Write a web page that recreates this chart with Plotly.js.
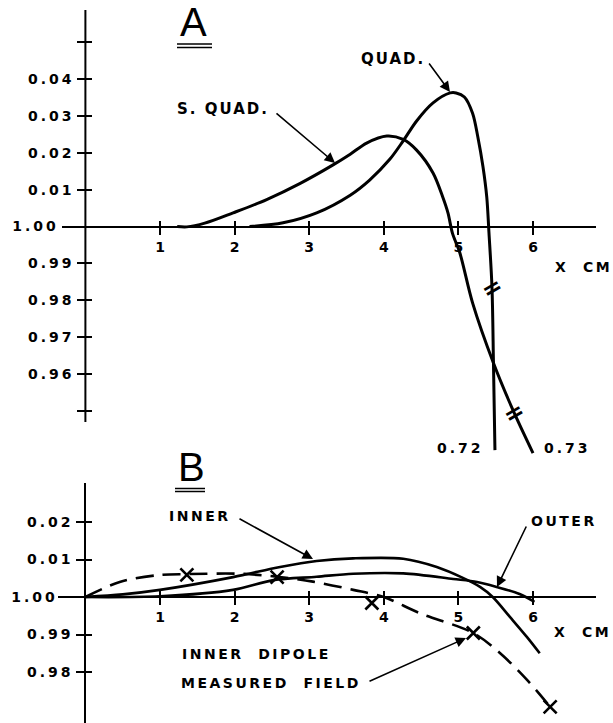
<!DOCTYPE html>
<html><head><meta charset="utf-8">
<script src="https://cdn.plot.ly/plotly-3.0.1.min.js"></script>
<style>html,body{margin:0;padding:0;background:#fff;}#chart{width:613px;height:723px;}</style>
</head><body><div id="chart"></div>
<script>
// ---------------- DATA ----------------
// Panel A : deviation of field from 1.00 vs X (cm)
const sQuadX = [1.23, 1.36, 1.6, 1.98, 2.43, 2.88, 3.32, 3.55, 3.77, 4.04, 4.26, 4.44, 4.66, 4.79, 4.86, 4.92, 5.02, 5.19, 5.47, 5.73, 6.0];
const sQuadY = [0, -0.0001, 0.0009, 0.0037, 0.0073, 0.0117, 0.0167, 0.0196, 0.0226, 0.0245, 0.0236, 0.0207, 0.0145, 0.008, 0.0037, -0.0018, -0.0072, -0.0207, -0.037, -0.0497, -0.0614];
const quadX = [2.2, 2.65, 3.1, 3.55, 3.81, 4.08, 4.26, 4.44, 4.66, 4.89, 4.97, 5.08, 5.19, 5.26, 5.33, 5.38, 5.41, 5.45, 5.47, 5.49];
const quadY = [0, 0.001, 0.0037, 0.0085, 0.0126, 0.0182, 0.0232, 0.0286, 0.0335, 0.0362, 0.0362, 0.0351, 0.0307, 0.0243, 0.0161, 0.008, -0.0018, -0.0164, -0.037, -0.0606];
// Panel B
const innerX = [0, 0.5, 1.0, 1.98, 2.61, 3.1, 3.59, 4.26, 4.71, 5.06, 5.29, 5.46, 5.69, 5.92, 6.09];
const innerY = [0, 0.0007, 0.0019, 0.0053, 0.008, 0.0096, 0.0103, 0.0102, 0.008, 0.0051, 0.0027, 0, -0.0053, -0.0107, -0.015];
const outerX = [0, 1.0, 1.98, 2.52, 3.1, 3.59, 4.26, 4.93, 5.25, 5.51, 5.82, 6.02];
const outerY = [0, 0.0002, 0.0019, 0.0045, 0.0054, 0.0062, 0.0063, 0.0048, 0.004, 0.0027, 0.0008, -0.0013];
const dipoleX = [0, 0.46, 0.96, 1.36, 2.07, 2.57, 3.05, 3.59, 4.0, 4.48, 5.2, 5.56, 5.92, 6.23];
const dipoleY = [0, 0.004, 0.0058, 0.0061, 0.0062, 0.0054, 0.0041, 0.0019, 0, -0.0043, -0.0096, -0.015, -0.0221, -0.0293];
const measX = [1.36, 2.57, 3.84, 5.2, 6.23];
const measY = [0.0059, 0.0053, -0.0016, -0.0096, -0.0293];
// Ticks
const xTickVals = [1, 2, 3, 4, 5, 6];
const xTickText = ['1', '2', '3', '4', '5', '6'];
const aYTickVals = [0.05, 0.04, 0.03, 0.02, 0.01, 0, -0.01, -0.02, -0.03, -0.04, -0.05];
const aYTickText = ['', '0.04', '0.03', '0.02', '0.01', '1.00', '0.99', '0.98', '0.97', '0.96', ''];
const bYTickVals = [0.02, 0.01, 0, -0.01, -0.02];
const bYTickText = ['0.02', '0.01', '1.00', '0.99', '0.98'];

// ---------------- GEOMETRY ----------------
const W = 613, H = 723;
const fx = px => px / W, fy = py => 1 - py / H;
const X0 = 85.4, PXCM = 74.6;          // x: 0 cm at 85.4px, 74.6 px per cm
const A_Y0 = 226.5, A_PXU = 3690;      // panel A: y=0 at 226.5px
const B_Y0 = 597, B_PXU = 3750;        // panel B
const xr = (l, r) => [(l - X0) / PXCM, (r - X0) / PXCM];
const yr = (y0, s, top, bot) => [(y0 - bot) / s, (y0 - top) / s];
const sp = (t, ls) => '<span style="letter-spacing:' + ls + 'px">' + t + '</span>';
const tickFont = {family: 'DejaVu Sans', size: 14, color: '#000', weight: 'bold'};

const A_XR = xr(62, 596), B_XR = xr(58, 596);
const A_YR = yr(A_Y0, A_PXU, 8, 462), B_YR = yr(B_Y0, B_PXU, 483, 723);

function lblY(arr) {
  return arr.map(t => t === '' ? '' : (t === '1.00' ? sp(t + '\u00a0\u00a0', 3) : sp(t, 3)));
}

const lineA = {color: '#000', width: 3, shape: 'spline', smoothing: 0.9};
const lineB = {color: '#000', width: 2.6, shape: 'spline', smoothing: 0.9};

const traces = [
  {x: sQuadX, y: sQuadY, xaxis: 'x', yaxis: 'y', mode: 'lines', line: lineA, name: 'S. QUAD.'},
  {x: quadX, y: quadY, xaxis: 'x', yaxis: 'y', mode: 'lines', line: lineA, name: 'QUAD.'},
  {x: innerX, y: innerY, xaxis: 'x2', yaxis: 'y2', mode: 'lines', line: lineB, name: 'INNER'},
  {x: outerX, y: outerY, xaxis: 'x2', yaxis: 'y2', mode: 'lines', line: lineB, name: 'OUTER'},
  {x: dipoleX, y: dipoleY, xaxis: 'x2', yaxis: 'y2', mode: 'lines',
   line: {color: '#000', width: 2.6, dash: '18px,9px', shape: 'spline', smoothing: 0.9}, name: 'INNER DIPOLE MEASURED FIELD'},
  {x: measX, y: measY, xaxis: 'x2', yaxis: 'y2', mode: 'markers',
   marker: {symbol: 'x-thin', size: 13, line: {color: '#000', width: 2.6}}, name: 'measured'},
  // carriers for the overlay axes (crossing tick marks)
  {x: [1], y: [0], xaxis: 'x3', yaxis: 'y', mode: 'none', hoverinfo: 'skip'},
  {x: [1], y: [0], xaxis: 'x', yaxis: 'y3', mode: 'none', hoverinfo: 'skip'},
  {x: [1], y: [0], xaxis: 'x4', yaxis: 'y2', mode: 'none', hoverinfo: 'skip'},
  {x: [1], y: [0], xaxis: 'x2', yaxis: 'y4', mode: 'none', hoverinfo: 'skip'}
];

const common = {showgrid: false, zeroline: false, tickcolor: '#000', tickwidth: 2, fixedrange: true};

const layout = {
  width: W, height: H, margin: {l: 0, r: 0, t: 0, b: 0},
  paper_bgcolor: '#fff', plot_bgcolor: 'rgba(0,0,0,0)', showlegend: false,
  font: {family: 'DejaVu Sans', color: '#000'},
  xaxis: Object.assign({}, common, {domain: [fx(62), fx(596)], range: A_XR, anchor: 'free', position: fy(A_Y0),
    showline: true, linewidth: 2, linecolor: '#000', ticks: 'outside', ticklen: 7,
    tickvals: xTickVals, ticktext: xTickText, tickfont: tickFont, ticklabelstandoff: 1}),
  xaxis3: Object.assign({}, common, {overlaying: 'x', range: A_XR, anchor: 'free', position: fy(A_Y0),
    showline: false, ticks: 'inside', ticklen: 6, tickvals: xTickVals, showticklabels: false}),
  yaxis: Object.assign({}, common, {domain: [fy(462), fy(8)], range: A_YR, anchor: 'free', position: fx(X0),
    showline: false, ticks: 'outside', ticklen: 8, tickvals: aYTickVals, ticktext: lblY(aYTickText), tickfont: tickFont}),
  yaxis3: Object.assign({}, common, {overlaying: 'y', range: A_YR, anchor: 'free', position: fx(X0),
    showline: false, ticks: 'inside', ticklen: 6, tickvals: aYTickVals, showticklabels: false}),
  xaxis2: Object.assign({}, common, {domain: [fx(58), fx(596)], range: B_XR, anchor: 'free', position: fy(B_Y0),
    showline: true, linewidth: 2, linecolor: '#000', ticks: 'outside', ticklen: 7,
    tickvals: xTickVals, ticktext: xTickText, tickfont: tickFont, ticklabelstandoff: 0}),
  xaxis4: Object.assign({}, common, {overlaying: 'x2', range: B_XR, anchor: 'free', position: fy(B_Y0),
    showline: false, ticks: 'inside', ticklen: 6, tickvals: xTickVals, showticklabels: false}),
  yaxis2: Object.assign({}, common, {domain: [0, fy(483)], range: B_YR, anchor: 'free', position: fx(X0),
    showline: true, linewidth: 2, linecolor: '#000', ticks: 'outside', ticklen: 8,
    tickvals: bYTickVals, ticktext: lblY(bYTickText), tickfont: tickFont}),
  yaxis4: Object.assign({}, common, {overlaying: 'y2', range: B_YR, anchor: 'free', position: fx(X0),
    showline: false, ticks: 'inside', ticklen: 6, tickvals: bYTickVals, showticklabels: false}),
  shapes: [
    // panel A vertical axis line
    {type: 'line', xref: 'x', yref: 'y', x0: 0, x1: 0, y0: (A_Y0 - 422) / A_PXU, y1: (A_Y0 - 10) / A_PXU,
     line: {color: '#000', width: 2}},
    // double underlines of A and B
    {type: 'line', xref: 'paper', yref: 'paper', x0: fx(177), x1: fx(212), y0: fy(44), y1: fy(44), line: {color: '#000', width: 1.5}},
    {type: 'line', xref: 'paper', yref: 'paper', x0: fx(177), x1: fx(212), y0: fy(47.5), y1: fy(47.5), line: {color: '#000', width: 1.5}},
    {type: 'line', xref: 'paper', yref: 'paper', x0: fx(175), x1: fx(205), y0: fy(488.5), y1: fy(488.5), line: {color: '#000', width: 1.5}},
    {type: 'line', xref: 'paper', yref: 'paper', x0: fx(175), x1: fx(205), y0: fy(491.5), y1: fy(491.5), line: {color: '#000', width: 1.5}}
  ],
  annotations: []
};

function label(text, cx, cy, size, ls, opts) {
  layout.annotations.push(Object.assign({
    xref: 'paper', yref: 'paper', x: fx(cx), y: fy(cy), xanchor: 'center', yanchor: 'middle',
    text: sp(text, ls), showarrow: false,
    font: {family: 'DejaVu Sans', size: size, color: '#000', weight: 'bold'}
  }, opts || {}));
}
function arrow(tx, ty, hx, hy) {
  layout.annotations.push({
    xref: 'paper', yref: 'paper', x: fx(hx), y: fy(hy), ax: tx - hx, ay: ty - hy,
    text: '', showarrow: true, arrowhead: 2, arrowsize: 1.3, arrowwidth: 1.6, arrowcolor: '#000'
  });
}

// Panel letters
layout.annotations.push({xref: 'paper', yref: 'paper', x: fx(193.5), y: fy(22), xanchor: 'center', yanchor: 'middle',
  text: 'A', showarrow: false, font: {family: 'Liberation Sans', size: 40, color: '#000'}});
layout.annotations.push({xref: 'paper', yref: 'paper', x: fx(191.5), y: fy(467), xanchor: 'center', yanchor: 'middle',
  text: 'B', showarrow: false, font: {family: 'Liberation Sans', size: 40, color: '#000'}});

label('S. QUAD.', 223, 109, 15, 2);
arrow(275, 112, 335, 163);
label('QUAD.', 393, 59, 15, 2);
arrow(428, 62, 450, 92);
label('X  CM', 583, 267, 14, 2.5);
label('0.72', 460, 448, 14, 3);
label('0.73', 567, 448, 14, 3);
// break marks
label('=', 492, 288, 24, 0, {textangle: -30});
label('=', 514, 413, 24, 0, {textangle: -30});

label('INNER', 200, 516, 14, 2.5);
arrow(238, 518, 313, 559);
label('OUTER', 564, 521, 14, 2.5);
arrow(527, 525, 497, 587);
label('X  CM', 582, 632, 14, 2.5);
label('INNER&nbsp;&nbsp;DIPOLE', 256, 654, 14, 2.5);
label('MEASURED&nbsp;&nbsp;FIELD', 271, 683, 14, 2.5);
arrow(368, 682, 466, 638);

Plotly.newPlot('chart', traces, layout, {staticPlot: true, displayModeBar: false});
</script>
</body></html>
